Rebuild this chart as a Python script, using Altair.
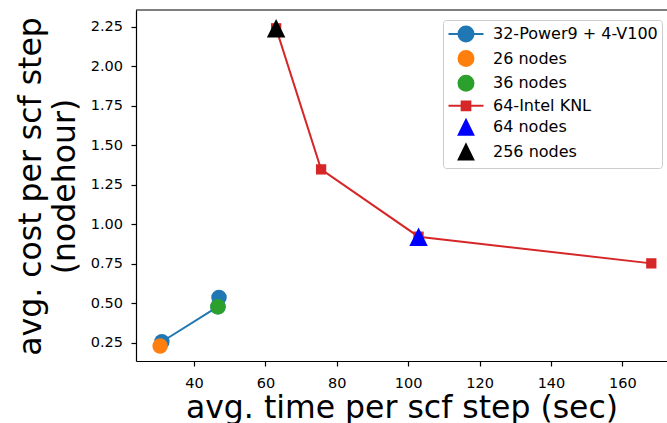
import altair as alt
import pandas as pd

# ---- data ----
power9_time = [31.0, 46.7, 47.0]
power9_cost = [0.256, 0.478, 0.536]
n26_time = [30.5]
n26_cost = [0.229]
n36_time = [46.7]
n36_cost = [0.478]
knl_time = [63.0, 75.6, 102.9, 168.1]
knl_cost = [2.24, 1.347, 0.921, 0.752]
knl64_time = [102.9]
knl64_cost = [0.921]
knl256_time = [63.0]
knl256_cost = [2.24]

legend_labels = ["32-Power9 + 4-V100", "26 nodes", "36 nodes",
                 "64-Intel KNL", "64 nodes", "256 nodes"]
legend_colors = ["#1f77b4", "#ff7f0e", "#2ca02c", "#d62728", "#0000ff", "#000000"]
x_ticks = [40, 60, 80, 100, 120, 140, 160]
y_ticks = [0.25, 0.5, 0.75, 1.0, 1.25, 1.5, 1.75, 2.0, 2.25]

# ---- styling ----
FONT = "DejaVu Sans"
W, H = 531, 351
TRI = "M0,-1L1,1L-1,1Z"
circ = "M0.833,0A0.833,0.833,0,1,1,-0.833,0A0.833,0.833,0,1,1,0.833,0Z"
legend_paths = [
    "M-1.944,0H1.944" + circ,
    circ,
    circ,
    "M-1.944,0H1.944M-0.483,-0.483H0.483V0.483H-0.483Z",
    "M0,-0.82L0.81,0.82L-0.81,0.82Z",
    "M0,-0.82L0.81,0.82L-0.81,0.82Z",
]


def frame(t, c):
    return pd.DataFrame({"t": t, "c": c, "i": list(range(len(t)))})


x_enc = alt.X("t:Q",
              scale=alt.Scale(domain=[23.75, 172.5], nice=False, zero=False),
              axis=alt.Axis(values=x_ticks, format="d",
                            title="avg. time per scf step (sec)",
                            labelBaseline="alphabetic", labelPadding=21.5,
                            titleBaseline="alphabetic", titleY=56.5))
y_enc = alt.Y("c:Q",
              scale=alt.Scale(domain=[0.134, 2.356], nice=False, zero=False),
              axis=alt.Axis(values=y_ticks, format=".2f",
                            title=["avg. cost per scf step", "(nodehour)"],
                            labelBaseline="middle", labelPadding=8.5,
                            titleAngle=270, titleAlign="center",
                            titleBaseline="alphabetic", titleX=-96, titleY=176,
                            titleLineHeight=34))

enc = dict(x=x_enc, y=y_enc)

blue_line = alt.Chart(frame(power9_time, power9_cost)).mark_line(
    color="#1f77b4", strokeWidth=2).encode(order="i:Q", **enc)
blue_pts = alt.Chart(frame(power9_time, power9_cost)).mark_point(
    shape="circle", filled=True, size=240, color="#1f77b4", opacity=1).encode(**enc)
orange_pts = alt.Chart(frame(n26_time, n26_cost)).mark_point(
    shape="circle", filled=True, size=240, color="#ff7f0e", opacity=1).encode(**enc)
green_pts = alt.Chart(frame(n36_time, n36_cost)).mark_point(
    shape="circle", filled=True, size=240, color="#2ca02c", opacity=1).encode(**enc)
red_line = alt.Chart(frame(knl_time, knl_cost)).mark_line(
    color="#d62728", strokeWidth=2).encode(order="i:Q", **enc)
red_pts = alt.Chart(frame(knl_time, knl_cost)).mark_point(
    shape="square", filled=True, size=106, color="#d62728", opacity=1).encode(**enc)
blue_tri = alt.Chart(frame(knl64_time, knl64_cost)).mark_point(
    shape=TRI, filled=True, size=342, color="#0000ff", opacity=1).encode(**enc)
black_tri = alt.Chart(frame(knl256_time, knl256_cost)).mark_point(
    shape=TRI, filled=True, size=342, color="#000000", opacity=1).encode(**enc)

# legend layer: no valid positions, so only the legend is drawn
leg_df = pd.DataFrame({"label": legend_labels,
                       "t": [None] * len(legend_labels),
                       "c": [None] * len(legend_labels)})
L = alt.Legend(title=None, orient="none", legendX=307, legendY=10,
               padding=4, symbolOffset=9, labelOffset=17, rowPadding=0.6,
               symbolSize=324, symbolStrokeWidth=2,
               labelFontSize=16, labelFont=FONT, labelColor="black", labelLimit=400,
               strokeColor="#cccccc", fillColor="rgba(255,255,255,0.8)",
               cornerRadius=3)
cscale = alt.Scale(domain=legend_labels, range=legend_colors)
legend_layer = alt.Chart(leg_df).mark_point(
    filled=True, opacity=1, strokeWidth=2, size=324).encode(
    fill=alt.Fill("label:N", scale=cscale, legend=L),
    stroke=alt.Stroke("label:N", scale=cscale, legend=L),
    shape=alt.Shape("label:N",
                    scale=alt.Scale(domain=legend_labels, range=legend_paths),
                    legend=L),
    **enc)

top_rule = alt.Chart(frame([0], [0])).mark_rule(color="black", strokeWidth=1.2).encode(
    x=alt.value(0), x2=alt.value(W), y=alt.value(0))

chart = alt.layer(
    blue_line, blue_pts, orange_pts, green_pts,
    red_line, red_pts, blue_tri, black_tri, legend_layer, top_rule
).properties(
    width=W, height=H,
    background="white",
    autosize=alt.AutoSizeParams(type="none"),
    padding={"left": 136, "top": 10, "right": 0, "bottom": 62},
).configure_view(stroke=None).configure_axis(
    grid=False,
    domainColor="black", domainWidth=1.2,
    tickColor="black", tickWidth=1.2, tickSize=5,
    labelFont=FONT, labelFontSize=14.5, labelColor="black",
    titleFont=FONT, titleFontSize=31.5, titleFontWeight="normal", titleColor="black",
)

chart.save("out.html", embed_options={"renderer": "svg", "actions": False})
